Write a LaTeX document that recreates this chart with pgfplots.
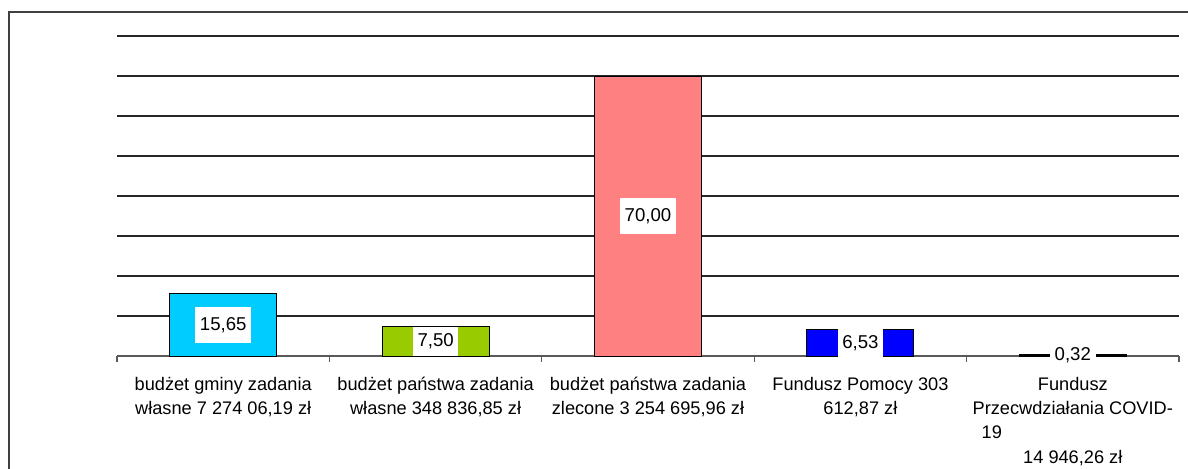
\documentclass[border=0pt]{standalone}
\usepackage{fontspec}
\setmainfont{Liberation Sans}
\usepackage{pgfplots}
\pgfplotsset{compat=1.18}
\definecolor{cbar}{HTML}{00CCFF}
\definecolor{gbar}{HTML}{99CC00}
\definecolor{pbar}{HTML}{FF8080}
\definecolor{bbar}{HTML}{0000FF}
\begin{document}
\begin{tikzpicture}
\begin{axis}[
  at={(58.5pt,-178pt)}, anchor=south west, scale only axis,
  width=531pt, height=160pt,
  xmin=-0.5, xmax=4.5, ymin=0, ymax=80,
  axis x line*=bottom, axis y line*=left,
  x axis line style={-, draw=black!65, line width=0.6pt},
  y axis line style={draw=none},
  ytick={10,20,...,80}, yticklabels={}, ymajorgrids,
  major y tick style={draw=none},
  grid style={black!85, line width=0.6pt},
  xtick={0,1,2,3,4}, major x tick style={draw=none},
  minor xtick={-0.5,0.5,1.5,2.5,3.5,4.5},
  minor x tick style={draw=black!65, line width=0.6pt},
  minor tick length=3pt, tick align=outside,
  xticklabels={{budżet gminy zadania\\własne 7 274 06,19 zł},
    {budżet państwa zadania\\własne 348 836,85 zł},
    {budżet państwa zadania\\zlecone 3 254 695,96 zł},
    {Fundusz Pomocy 303\\612,87 zł},
    {Fundusz\\Przecwdziałania COVID-\\\makebox[81pt][l]{\makebox[0pt]{19}}\\14 946,26 zł}},
  xticklabel style={anchor=north, inner sep=0pt, yshift=-6pt, align=center,
    font=\fontsize{9.1}{12.2}\selectfont},
  clip=false,
]
\addplot[ybar, bar width=53.5pt, bar shift=0pt, fill=cbar, draw=black, line width=0.5pt] coordinates {(0,15.65)};
\addplot[ybar, bar width=53.5pt, bar shift=0pt, fill=gbar, draw=black, line width=0.5pt] coordinates {(1,7.50)};
\addplot[ybar, bar width=53.5pt, bar shift=0pt, fill=pbar, draw=black, line width=0.5pt] coordinates {(2,70.00)};
\addplot[ybar, bar width=53.5pt, bar shift=0pt, fill=bbar, draw=black, line width=0.5pt] coordinates {(3,6.53)};
\addplot[ybar, bar width=53.5pt, bar shift=0pt, fill=black, draw=black, line width=0.5pt] coordinates {(4,0.32)};
\addplot[draw=none, mark=none, nodes near coords, point meta=explicit symbolic,
  every node near coord/.append style={fill=white, anchor=center, inner xsep=2.3pt, inner ysep=0pt,
    minimum height=18pt, font=\fontsize{9.3}{11}\selectfont}]
  table[meta=lab] {
x y lab
0 7.825 15,65
2 35.00 70,00
};
\addplot[draw=none, mark=none, nodes near coords, point meta=explicit symbolic,
  every node near coord/.append style={fill=white, anchor=center, inner xsep=2.3pt, inner ysep=0pt,
    minimum height=14.5pt, font=\fontsize{9.3}{11}\selectfont}]
  table[meta=lab] {
x y lab
1 3.75 7,50
3 3.265 6,53
};
\addplot[draw=none, mark=none, nodes near coords, point meta=explicit symbolic,
  every node near coord/.append style={fill=white, anchor=center, inner xsep=2.3pt, inner ysep=0pt,
    minimum height=10pt, font=\fontsize{9.3}{11}\selectfont}]
  table[meta=lab] {
x y lab
4 0.16 0,32
};
\end{axis}
\draw[draw=black!75, line width=1pt] (4.25pt,-5.75pt) rectangle (620pt,-260pt);
\pgfresetboundingbox
\useasboundingbox (0,0) rectangle (594pt,-234pt);
\end{tikzpicture}
\end{document}
